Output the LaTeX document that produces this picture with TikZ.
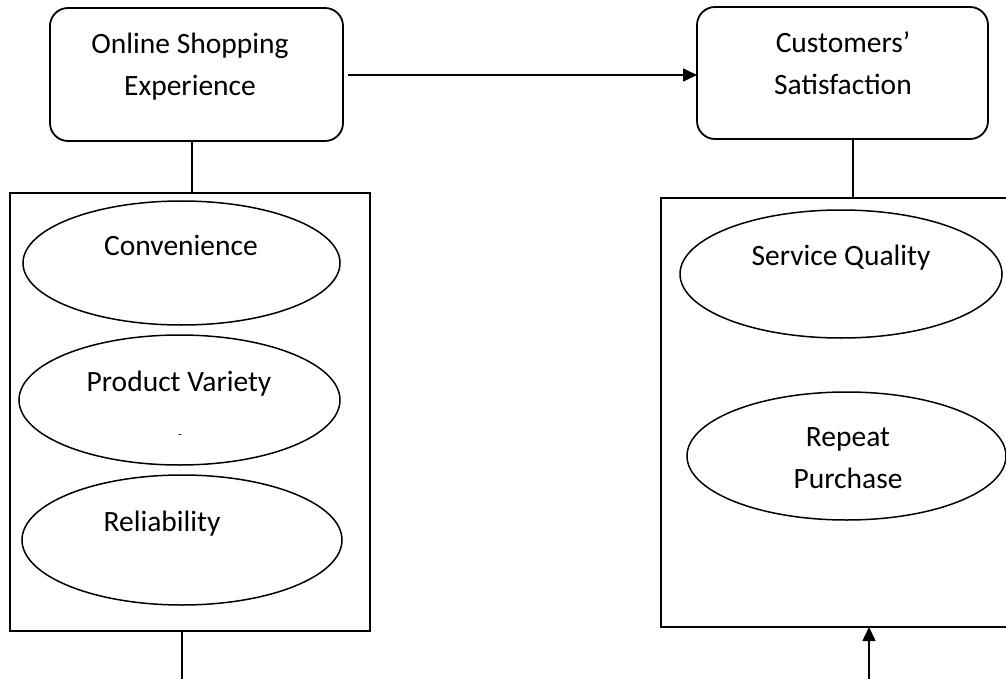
\documentclass[tikz,border=0pt]{standalone}
\usepackage{fontspec}
\setmainfont{Carlito}
\usetikzlibrary{shapes.geometric,arrows.meta}
\begin{document}
\begin{tikzpicture}[x=1pt,y=-1pt,
  every node/.style={inner sep=0pt,outer sep=0pt},
  rbox/.style={draw,line width=1.8pt,rounded corners=18pt},
  frame/.style={draw,line width=1.8pt},
  oval/.style={draw,ellipse,line width=1.5pt},
  txt/.style={font=\fontsize{29.5}{42}\selectfont,align=center,anchor=base},
  link/.style={line width=1.6pt},
  arr/.style={line width=1.6pt,-{Triangle[length=14pt,width=13pt]}}]
\useasboundingbox (0,0) rectangle (1006,679);
\clip (0,0) rectangle (1006,679);
% top boxes
\node[rbox,minimum width=293pt,minimum height=133pt] (ose) at (196.5,74.5) {};
\node[rbox,minimum width=291pt,minimum height=132pt] (cs) at (842.5,73) {};
\node[txt] (tose) at (190,96) {Online Shopping\\Experience};
\node[txt] (tcs) at (843,95) {Customers’\\Satisfaction};
% frames
\node[frame,minimum width=360pt,minimum height=438pt] (lrect) at (190,412) {};
\node[frame,minimum width=359pt,minimum height=429pt] (rrect) at (840.5,412.5) {};
% ellipses left
\node[oval,minimum width=317pt,minimum height=124pt] (conv) at (181.5,263) {};
\node[oval,minimum width=321pt,minimum height=130pt] (pv) at (179.5,400) {};
\node[oval,minimum width=320pt,minimum height=130pt] (rel) at (182,540) {};
\node[txt] (tconv) at (181,255) {Convenience};
\node[txt] (tpv) at (179,391) {Product Variety};
\node[font=\fontsize{12}{14}\selectfont] (dot) at (180,437) {-};
\node[txt] (trel) at (162,531) {Reliability};
% ellipses right
\node[oval,minimum width=322pt,minimum height=128pt] (sq) at (841,274) {};
\node[oval,minimum width=319pt,minimum height=128pt] (rp) at (846.5,456) {};
\node[txt] (tsq) at (841,265) {Service Quality};
\node[txt] (trp) at (848,488) {Repeat\\Purchase};
% connectors
\draw[arr] ([xshift=5pt,yshift=-0.5pt]ose.east) -- ([yshift=-0.5pt]ose.east -| cs.west);
\draw[link] ([xshift=-4.5pt]ose.south) -- ([xshift=2pt]lrect.north);
\draw[link] ([xshift=10.5pt]cs.south) -- ([xshift=12.5pt]rrect.north);
\coordinate (lend) at (182,690);
\coordinate (rstart) at (869,690);
\draw[link] ([xshift=-8pt]lrect.south) -- (lend);
\draw[arr] (rstart) -- ([xshift=28.5pt]rrect.south);
\end{tikzpicture}
\end{document}
